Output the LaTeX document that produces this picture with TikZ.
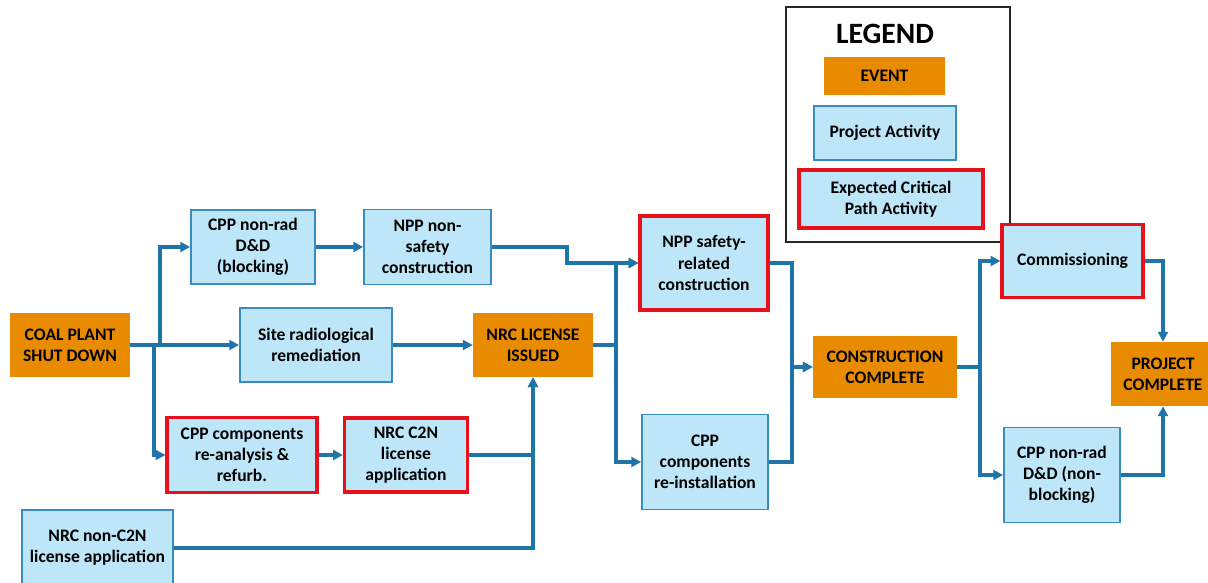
\documentclass[tikz,border=0pt]{standalone}
\usepackage{fontspec}
\setmainfont{Carlito}
\usetikzlibrary{arrows.meta}

\definecolor{eventorange}{HTML}{E98B00}
\definecolor{actfill}{HTML}{BEE6F9}
\definecolor{actline}{HTML}{3A8CC0}
\definecolor{critred}{HTML}{E8101A}
\definecolor{flowblue}{HTML}{1F75A8}

\tikzset{
  box/.style={rectangle, align=center, inner sep=2pt, font=\fontsize{12.5}{15}\selectfont\bfseries},
  event/.style={box, fill=eventorange},
  activity/.style={box, fill=actfill, draw=actline, line width=1.2pt},
  critical/.style={box, fill=actfill, draw=critred, line width=2.2pt},
  flow/.style={draw=flowblue, line width=2.2pt, -{Triangle[length=7pt,width=7pt]}},
}

\begin{document}
\begin{tikzpicture}[x=0.025cm, y=-0.025cm]
      \useasboundingbox (0,0) rectangle (1208,583);

      % Legend
      \node[draw=black!85, line width=1.5pt, minimum width=5.6cm, minimum height=5.875cm] at (898, 124.5) (legend) {};
      \node[font=\fontsize{21}{24}\selectfont\bfseries] at (885, 34) (legtitle) {LEGEND};
      \node[event, minimum width=3.025cm, minimum height=0.95cm] at (884.5, 76) (legevent) {EVENT};
      \node[activity, minimum width=3.55cm, minimum height=1.35cm] at (885, 133) (legact) {Project Activity};
      \node[critical, minimum width=4.6cm, minimum height=1.45cm] at (891, 199) (legcrit) {Expected Critical\\Path Activity};

      % Nodes
      \node[event, minimum width=3.0cm, minimum height=1.575cm] at (70, 345) (coal) {COAL PLANT\\SHUT DOWN};
      \node[activity, minimum width=3.1cm, minimum height=1.85cm] at (253, 247) (cppdd) {CPP non-rad\\D\&D\\(blocking)};
      \node[activity, minimum width=3.175cm, minimum height=1.875cm] at (427.5, 247) (nppnon) {NPP non-\\safety\\construction};
      \node[activity, minimum width=3.8cm, minimum height=1.85cm] at (316, 345) (siterad) {Site radiological\\remediation};
      \node[event, minimum width=3.0cm, minimum height=1.6cm] at (533, 345) (nrclic) {NRC LICENSE\\ISSUED};
      \node[critical, minimum width=3.75cm, minimum height=1.875cm] at (242, 455) (cppre) {CPP components\\re-analysis \&\\refurb.};
      \node[critical, minimum width=3.075cm, minimum height=1.85cm] at (406, 455) (nrcc2n) {NRC C2N\\license\\application};
      \node[activity, minimum width=3.775cm, minimum height=1.9cm] at (97.5, 548) (nonc2n) {NRC non-C2N\\license application};
      \node[critical, minimum width=3.2cm, minimum height=2.35cm] at (704, 263) (nppsafe) {NPP safety-\\related\\construction};
      \node[activity, minimum width=3.15cm, minimum height=2.375cm] at (705, 462) (cppinst) {CPP\\components\\re-installation};
      \node[event, minimum width=3.6cm, minimum height=1.55cm] at (885, 367) (conscomp) {CONSTRUCTION\\COMPLETE};
      \node[critical, minimum width=3.525cm, minimum height=1.825cm] at (1072.5, 261) (commiss) {Commissioning};
      \node[activity, minimum width=2.9cm, minimum height=2.375cm] at (1062, 475) (cppnb) {CPP non-rad\\D\&D (non-\\blocking)};
      \node[event, minimum width=2.6cm, minimum height=1.6cm] at (1163, 374) (projcomp) {PROJECT\\COMPLETE};

      % Junctions
      \coordinate (j1) at (160, 345);
      \coordinate (j2) at (154, 345);
      \coordinate (j3) at (567, 247);
      \coordinate (j4) at (616, 345);
      \coordinate (j5) at (792, 263);
      \coordinate (j6) at (792, 462);
      \coordinate (j7) at (980, 367);

      % Edges
      \draw[flow] (coal) -- (siterad);
      \draw[flow] (coal.east) -- (j1) |- (cppdd);
      \draw[flow] (coal.east) -- (j2) |- (cppre);
      \draw[flow] (cppdd) -- (nppnon);
      \draw[flow] (nppnon.east) -- (j3) |- (nppsafe);
      \draw[flow] (siterad) -- (nrclic);
      \draw[flow] (nrclic.east) -- (j4) |- (nppsafe);
      \draw[flow] (nrclic.east) -- (j4) |- (cppinst);
      \draw[flow] (cppre) -- (nrcc2n);
      \draw[flow] (nrcc2n.east) -| (nrclic);
      \draw[flow] (nonc2n.east) -| (nrclic);
      \draw[flow] (nppsafe.east) -- (j5) |- (conscomp);
      \draw[flow] (cppinst.east) -- (j6) |- (conscomp);
      \draw[flow] (conscomp.east) -- (j7) |- (commiss);
      \draw[flow] (conscomp.east) -- (j7) |- (cppnb);
      \draw[flow] (commiss.east) -| (projcomp);
      \draw[flow] (cppnb.east) -| (projcomp);
\end{tikzpicture}
\end{document}
